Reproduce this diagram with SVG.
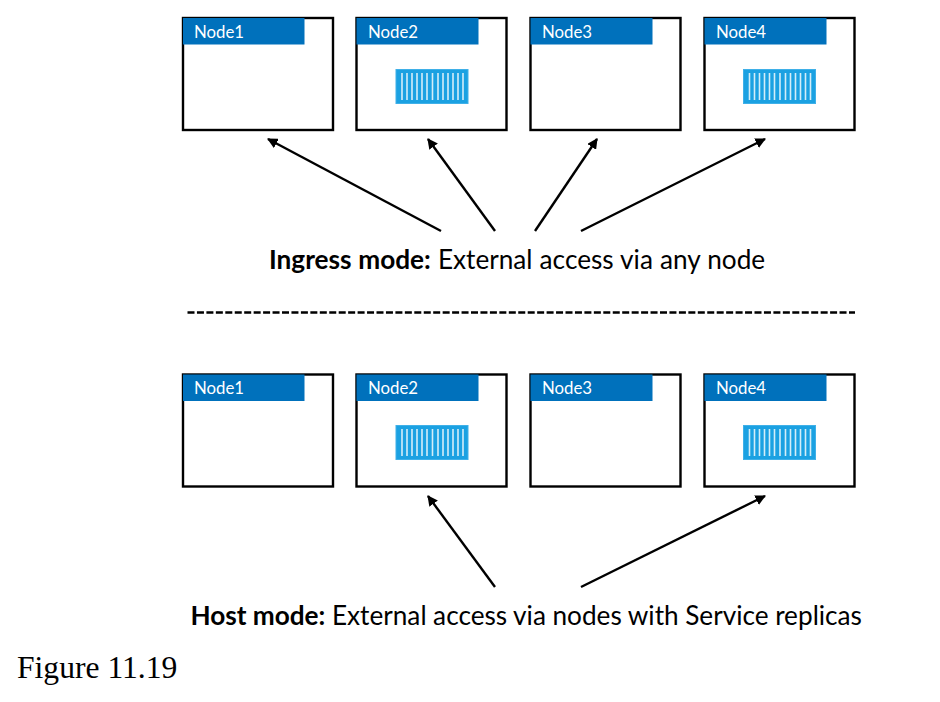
<svg xmlns="http://www.w3.org/2000/svg" width="940" height="702" viewBox="0 0 940 702">
<style>
.box{fill:#fff;stroke:#000;stroke-width:2.4}
.tab{fill:#0071bc}
.nl{font:16.8px Lato,"Noto Sans",sans-serif;fill:#fff}
.cap{font:26.2px Lato,"Noto Sans",sans-serif;fill:#000}
.cap .b{font-weight:700}
.fig{font:31.6px "Liberation Serif","Times New Roman",serif;fill:#000}
.arr{stroke:#000;stroke-width:2.4;fill:none;marker-end:url(#ah)}
.c-body{fill:#1ba1e2;stroke:#3fb0e8;stroke-width:1}
.c-rib{stroke:#d4edf9;stroke-width:1.6}
</style>
<defs>
<marker id="ah" viewBox="0 0 10 10" refX="9" refY="5" markerWidth="4.4" markerHeight="4.4" orient="auto"><path d="M0 0L10 5L0 10z" fill="#000"/></marker>
<g id="container">
<rect class="c-body" x="0" y="0" width="72" height="34"/>
<path class="c-rib" d="M6 3.500V30.500M11 3.500V30.500M16 3.500V30.500M21 3.500V30.500M26 3.500V30.500M31 3.500V30.500M36.500 3.500V30.500M42 3.500V30.500M47 3.500V30.500M52 3.500V30.500M57 3.500V30.500M62 3.500V30.500M67 3.500V30.500"/>
</g>
</defs>
<rect width="940" height="702" fill="#fff"/>
<g id="ingress-node1"><rect class="box" x="183" y="18" width="150" height="112"/><rect class="tab" x="183" y="18" width="121.500" height="26.500"/><text class="nl" x="194" y="37.500">Node1</text></g>
<g id="ingress-node2"><rect class="box" x="356.500" y="18" width="150" height="112"/><rect class="tab" x="356.500" y="18" width="122" height="26.500"/><text class="nl" x="368" y="37.500">Node2</text><use href="#container" x="396" y="69.500"/></g>
<g id="ingress-node3"><rect class="box" x="530.500" y="18" width="150" height="112"/><rect class="tab" x="530.500" y="18" width="122" height="26.500"/><text class="nl" x="542" y="37.500">Node3</text></g>
<g id="ingress-node4"><rect class="box" x="704.500" y="18" width="150" height="112"/><rect class="tab" x="704.500" y="18" width="122" height="26.500"/><text class="nl" x="716" y="37.500">Node4</text><use href="#container" x="743.500" y="69.500"/></g>
<g id="host-node1"><rect class="box" x="183" y="374.500" width="150" height="112"/><rect class="tab" x="183" y="374.500" width="121.500" height="26.500"/><text class="nl" x="194" y="394">Node1</text></g>
<g id="host-node2"><rect class="box" x="356.500" y="374.500" width="150" height="112"/><rect class="tab" x="356.500" y="374.500" width="122" height="26.500"/><text class="nl" x="368" y="394">Node2</text><use href="#container" x="396" y="425.500"/></g>
<g id="host-node3"><rect class="box" x="530.500" y="374.500" width="150" height="112"/><rect class="tab" x="530.500" y="374.500" width="122" height="26.500"/><text class="nl" x="542" y="394">Node3</text></g>
<g id="host-node4"><rect class="box" x="704.500" y="374.500" width="150" height="112"/><rect class="tab" x="704.500" y="374.500" width="122" height="26.500"/><text class="nl" x="716" y="394">Node4</text><use href="#container" x="743.500" y="425.500"/></g>
<g id="connectors">
<line class="arr" x1="441" y1="231" x2="268" y2="139"/>
<line class="arr" x1="495" y1="231" x2="428" y2="139"/>
<line class="arr" x1="535" y1="231" x2="597" y2="139"/>
<line class="arr" x1="581" y1="231" x2="765" y2="139"/>
<line class="arr" x1="495" y1="587" x2="428" y2="496"/>
<line class="arr" x1="581" y1="587" x2="765" y2="496"/>
</g>
<line id="divider" x1="187.500" y1="312.500" x2="855" y2="312.500" stroke="#000" stroke-width="2.400" stroke-dasharray="7 2.450"/>
<text id="ingress-caption" class="cap" x="269" y="269" word-spacing="0.35"><tspan class="b">Ingress mode:</tspan> External access via any node</text>
<text id="host-caption" class="cap" x="190.500" y="625" word-spacing="-0.15"><tspan class="b">Host mode:</tspan> External access via nodes with Service replicas</text>
<text id="figure-label" class="fig" x="17" y="678">Figure 11.19</text>
</svg>
